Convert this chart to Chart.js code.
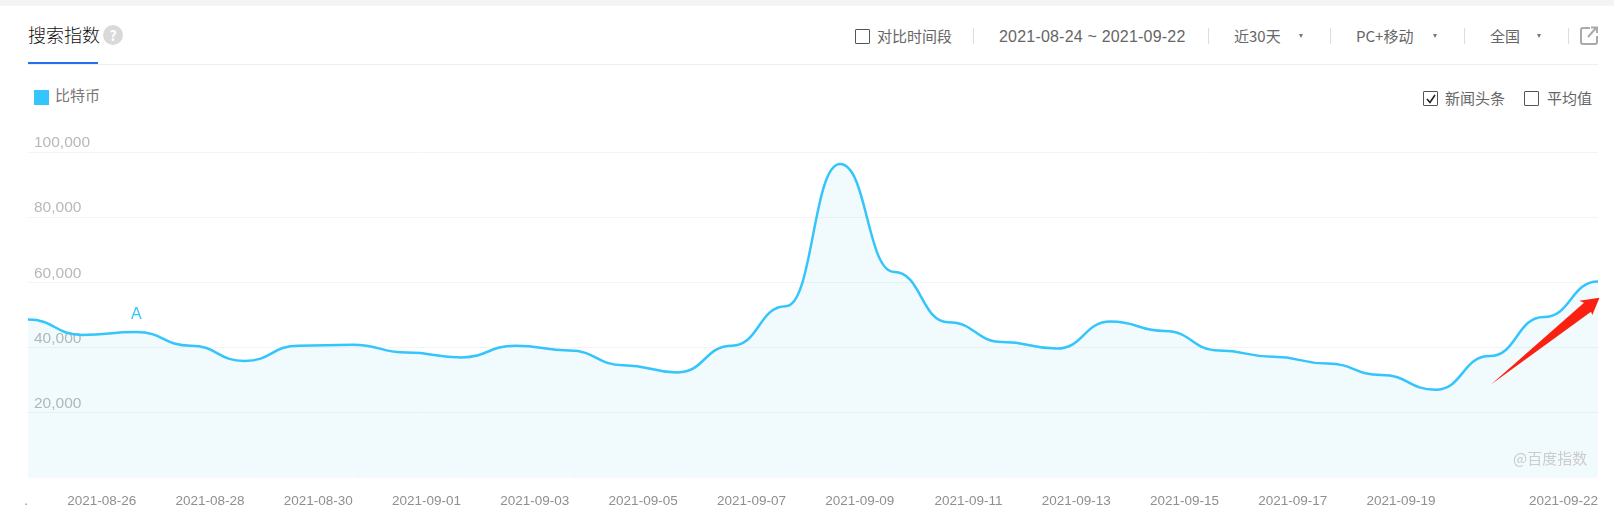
<!DOCTYPE html>
<html lang="zh-CN">
<head>
<meta charset="utf-8">
<title>搜索指数</title>
<script src="https://cdn.jsdelivr.net/npm/chart.js@4/dist/chart.umd.min.js"></script>
<style>
    html, body { margin: 0; padding: 0; background: #fff; }
    body { width: 1614px; height: 512px; position: relative; overflow: hidden;
           font-family: "Noto Sans CJK SC", "Liberation Sans", sans-serif; color: #666; }
    canvas#chart { position: absolute; left: 0; top: 0; }
    .abs { position: absolute; white-space: nowrap; line-height: 20px; font-size: 15px; }
    .topBand { position: absolute; left: 0; top: 0; width: 1614px; height: 6px; background: #f4f4f4; }
    .tabLine { position: absolute; left: 28px; top: 64px; width: 1570px; height: 1px; background: #eee; }
    .tabActive { position: absolute; left: 28px; top: 62px; width: 70px; height: 2px; background: #2470ef; }
    .sep { position: absolute; top: 28px; width: 1px; height: 16px; background: #ddd; }
    .box { position: absolute; width: 13px; height: 13px; border: 1px solid #555; border-radius: 1px; box-sizing: content-box; }
    .tri { position: absolute; top: 34px; width: 0; height: 0; border-left: 2.5px solid transparent;
           border-right: 2.5px solid transparent; border-top: 4px solid #777; }
    .latin { font-family: "Liberation Sans", "Noto Sans CJK SC", sans-serif; }
    svg { position: absolute; left: 0; top: 0; }
</style>
</head>
<body>
<div class="topBand"></div>
<div class="abs" style="left:28px;top:24px;font-size:18px;font-weight:300;color:#111;">搜索指数</div>
<div class="abs" style="left:103px;top:25px;width:20px;height:20px;border-radius:10px;background:#d9d9d9;color:#fff;text-align:center;font-weight:bold;font-size:14px;">?</div>
<div class="tabLine"></div>
<div class="tabActive"></div>

<div class="box" style="left:855px;top:29px;"></div>
<div class="abs" style="left:877px;top:26px;">对比时间段</div>
<div class="sep" style="left:973px;"></div>
<div class="abs latin" style="left:999px;top:27px;font-size:16px;letter-spacing:.2px;">2021-08-24 ~ 2021-09-22</div>
<div class="sep" style="left:1208px;"></div>
<div class="abs" style="left:1234px;top:26px;">近30天</div>
<div class="tri" style="left:1299px;"></div>
<div class="sep" style="left:1330px;"></div>
<div class="abs" style="left:1356px;top:26px;">PC+移动</div>
<div class="tri" style="left:1433px;"></div>
<div class="sep" style="left:1464px;"></div>
<div class="abs" style="left:1490px;top:26px;">全国</div>
<div class="tri" style="left:1537px;"></div>
<div class="sep" style="left:1568px;"></div>

<div class="box" style="left:1423px;top:91px;"></div>
<div class="abs" style="left:1445px;top:88px;">新闻头条</div>
<div class="box" style="left:1524px;top:91px;"></div>
<div class="abs" style="left:1547px;top:88px;">平均值</div>

<div id="legendSwatch" style="position:absolute;left:34px;top:90px;width:15px;height:15px;"></div>
<div id="legendText" class="abs" style="left:55px;top:85px;color:#777;"></div>

<canvas id="chart" width="1614" height="512"></canvas>

<div class="abs" style="left:1513px;top:448px;color:#ccc;">@百度指数</div>

<svg width="1614" height="512" fill="none">
    <!-- share icon -->
    <path d="M1590 28H1583a2 2 0 0 0-2 2V42a2 2 0 0 0 2 2H1595a2 2 0 0 0 2-2V36" stroke="#aaa" stroke-width="2"/>
    <path d="M1588 37L1596 28M1591 27.500H1597V33" stroke="#aaa" stroke-width="2"/>
    <!-- tick in the news checkbox -->
    <path d="M1427 99L1430 102.500L1435 95" stroke="#222" stroke-width="1.6"/>
    <!-- hand drawn red arrow -->
    <polygon points="1491,384.500 1584,302.700 1579.300,300.700 1599.500,297.700 1592.300,315 1591,311.700" fill="#fb2112"/>
</svg>

<script>
//-----------------------------------------------------------------------------
// chart data
//-----------------------------------------------------------------------------
const seriesName = "比特币";
const seriesColor = "#33c5fb";

const dates = [
    "2021-08-24","2021-08-25","2021-08-26","2021-08-27","2021-08-28","2021-08-29",
    "2021-08-30","2021-08-31","2021-09-01","2021-09-02","2021-09-03","2021-09-04",
    "2021-09-05","2021-09-06","2021-09-07","2021-09-08","2021-09-09","2021-09-10",
    "2021-09-11","2021-09-12","2021-09-13","2021-09-14","2021-09-15","2021-09-16",
    "2021-09-17","2021-09-18","2021-09-19","2021-09-20","2021-09-21","2021-09-22"
];
const searchIndex = [
    48600, 43900, 44800, 40600, 35900, 40600,
    40900, 38500, 37000, 40600, 39100, 34600,
    32400, 40600, 52700, 96300, 63200, 47800,
    41700, 39700, 48000, 45100, 39100, 37200,
    35100, 31600, 27100, 37400, 49400, 60300
];
const xTickLabels = [
    "2021-08-26","2021-08-28","2021-08-30","2021-09-01","2021-09-03","2021-09-05",
    "2021-09-07","2021-09-09","2021-09-11","2021-09-13","2021-09-15","2021-09-17",
    "2021-09-19","2021-09-22"
];
const yTicks = [20000, 40000, 60000, 80000, 100000];
const newsDates = ["2021-08-26"];
const newsLabels = ["A"];

document.getElementById("legendSwatch").style.background = seriesColor;
document.getElementById("legendText").textContent = seriesName;

//-----------------------------------------------------------------------------
// the curve sits flat on every point, so overwrite the bezier control points
//-----------------------------------------------------------------------------
const flatCurve = {
    id: "flatCurve",
    afterDatasetsUpdate(chart) {
        const meta = chart.getDatasetMeta(0);
        meta.dataset.updateControlPoints(chart.chartArea);
        const pts = meta.data;
        pts.forEach((p, i) => {
            const prev = pts[i - 1] || p;
            const next = pts[i + 1] || p;
            p.cp1x = p.x - (p.x - prev.x) * 0.5;
            p.cp1y = p.y;
            p.cp2x = p.x + (next.x - p.x) * 0.5;
            p.cp2y = p.y;
        });
    }
};

//-----------------------------------------------------------------------------
// small white notches on the x axis and the news letters over the line
//-----------------------------------------------------------------------------
const extras = {
    id: "extras",
    afterDatasetsDraw(chart) {
        const { ctx, scales, chartArea } = chart;
        const pts = chart.getDatasetMeta(0).data;
        ctx.save();
        ctx.fillStyle = "#fff";
        xTickLabels.forEach(label => {
            const x = scales.x.getPixelForValue(dates.indexOf(label));
            ctx.fillRect(Math.round(x) - 1, chartArea.bottom - 2, 1, 2);
        });
        ctx.fillStyle = seriesColor;
        ctx.font = "16px 'Liberation Sans'";
        ctx.textAlign = "center";
        ctx.textBaseline = "middle";
        newsDates.forEach((d, i) => {
            const p = pts[dates.indexOf(d)];
            ctx.fillText(newsLabels[i], p.x, p.y - 17);
        });
        ctx.restore();
    }
};

new Chart(document.getElementById("chart").getContext("2d"), {
    type: "line",
    plugins: [flatCurve, extras],
    data: {
        labels: dates,
        datasets: [{
            label: seriesName,
            data: searchIndex,
            borderColor: seriesColor,
            borderWidth: 2.5,
            backgroundColor: "rgba(55,184,226,0.07)",
            fill: "origin",
            pointRadius: 0,
            tension: 0.4
        }]
    },
    options: {
        responsive: false,
        animation: false,
        layout: { padding: { left: 28, right: 16, top: 152, bottom: 0 } },
        plugins: { legend: { display: false }, tooltip: { enabled: false } },
        scales: {
            x: {
                type: "category",
                offset: false,
                border: { display: false },
                grid: { display: false },
                afterFit: scale => { scale.height = 34; },
                ticks: {
                    autoSkip: false,
                    maxRotation: 0,
                    align: "end",
                    padding: 7,
                    color: "#8f8f8f",
                    font: { family: "Liberation Sans", size: 13.5 },
                    callback(value, i) {
                        if (i === 0) return ".";
                        return xTickLabels.includes(dates[i]) ? dates[i] : "";
                    }
                }
            },
            y: {
                min: 0,
                max: 100000,
                border: { display: false },
                afterFit: scale => { scale.width = 0; },
                grid: {
                    drawTicks: false,
                    lineWidth: 1,
                    color: ctx => ctx.tick.value === 0 ? "transparent" : "#f4f4f4"
                },
                afterBuildTicks: scale => { scale.ticks = [0, ...yTicks].map(value => ({ value })); },
                ticks: {
                    mirror: true,
                    padding: 6,
                    labelOffset: -9,
                    color: "#b8b8b8",
                    font: { family: "Liberation Sans", size: 15.5 },
                    callback: value => value === 0 ? "" : value.toLocaleString("en-US")
                }
            }
        }
    }
});
</script>
</body>
</html>
